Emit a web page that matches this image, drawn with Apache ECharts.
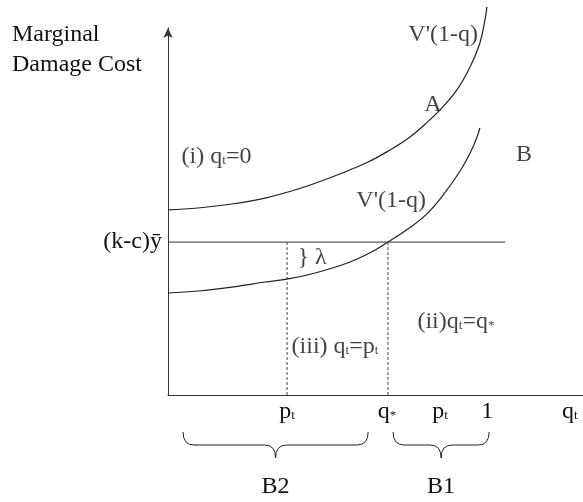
<!DOCTYPE html>
<html>
<head>
<meta charset="utf-8">
<script src="https://cdn.jsdelivr.net/npm/echarts@6/dist/echarts.min.js"></script>
<style>
  html, body { margin: 0; padding: 0; background: #fff; }
  #main { width: 583px; height: 502px; }
</style>
</head>
<body>
<div id="main"></div>
<script>
// upper curve V'(1-q), branch A
var upperQ = [0, 0.094, 0.2, 0.304, 0.407, 0.514, 0.627, 0.695, 0.758, 0.82, 0.852, 0.905, 0.946, 0.977, 0.993, 0.999];
var upperV = [1.21, 1.223, 1.249, 1.288, 1.347, 1.426, 1.524, 1.602, 1.687, 1.799, 1.864, 1.995, 2.145, 2.302, 2.453, 2.538];
// lower curve V'(1-q), branch B
var lowerQ = [0, 0.094, 0.2, 0.304, 0.376, 0.461, 0.564, 0.633, 0.689, 0.758, 0.811, 0.862, 0.915, 0.948, 0.968, 0.977];
var lowerV = [0.667, 0.68, 0.706, 0.739, 0.759, 0.798, 0.865, 0.93, 1.0, 1.095, 1.184, 1.308, 1.465, 1.589, 1.687, 1.746];

var kcLevel = 1;      // (k-c)y level
var levelEnd = 1.056; // where the flat line stops
var ptValue = 0.373;
var qStar = 0.689;

var xTickValues = [0.373, 0.686, 0.852, 1.0, 1.259];
var xTickLabels = ['{m|p}{s|t}', '{m|q}{s|*}', '{m|p}{s|t}', '{m|1}', '{m|q}{s|t}'];

var braceStart = [0.047, 0.705];
var braceEnd = [0.627, 1.006];
var braceLabels = ['B2', 'B1'];

var noteX = [0.862, 0.830, 1.115, 0.152, 0.699, 0.451, 0.523, 0.902];
var noteY = [2.354, 1.897, 1.570, 1.557, 1.269, 0.896, 0.314, 0.477];
var noteText = [
  "V'(1-q)",
  'A',
  'B',
  '{m|(i) q}{s|t}{m|=0}',
  "V'(1-q)",
  '} λ',
  '{m|(iii) q}{s|t}{m|=p}{s|t}',
  '{m|(ii)q}{s|t}{m|=q}{s|*}'
];

var serif = '"Liberation Serif", "DejaVu Serif", serif';
var ink = '#111';
var richText = {
  m: { fontFamily: serif, fontSize: 24, color: ink },
  s: { fontFamily: serif, fontSize: 13, color: ink, verticalAlign: 'bottom', padding: [0, 0, 2, 0] }
};

function zip(a, b) {
  return a.map(function (v, i) { return [v, b[i]]; });
}

var myChart = echarts.init(document.getElementById('main'));

var option = {
  animation: false,
  title: {
    text: 'Marginal\nDamage Cost',
    left: 12,
    top: 20,
    padding: 0,
    textStyle: { fontFamily: serif, fontSize: 24, fontWeight: 'normal', lineHeight: 30, color: ink }
  },
  grid: { left: 168, right: 0, top: 28, bottom: 107 },
  xAxis: {
    type: 'value',
    min: 0,
    max: 1.3,
    axisLine: { show: true, lineStyle: { color: '#333', width: 1 } },
    axisTick: { show: false },
    splitLine: { show: false },
    axisLabel: {
      customValues: xTickValues,
      margin: 5,
      rich: richText,
      formatter: function (value) {
        for (var i = 0; i < xTickValues.length; i++) {
          if (Math.abs(xTickValues[i] - value) < 1e-6) return xTickLabels[i];
        }
        return '';
      }
    }
  },
  yAxis: {
    type: 'value',
    min: 0,
    max: 2.4,
    axisLine: {
      show: true,
      symbol: ['none', 'arrow'],
      symbolSize: [7, 10],
      lineStyle: { color: '#333', width: 1 }
    },
    axisTick: { show: false },
    splitLine: { show: false },
    axisLabel: {
      customValues: [kcLevel],
      margin: 6,
      fontFamily: serif,
      fontSize: 24,
      color: ink,
      formatter: function () { return '(k-c)ȳ'; }
    }
  },
  series: [
    {
      name: 'upper',
      type: 'line',
      data: zip(upperQ, upperV),
      smooth: 0.4,
      symbol: 'none',
      clip: false,
      lineStyle: { color: '#222', width: 1.2 }
    },
    {
      name: 'lower',
      type: 'line',
      data: zip(lowerQ, lowerV),
      smooth: 0.4,
      symbol: 'none',
      clip: false,
      lineStyle: { color: '#222', width: 1.2 }
    },
    {
      name: 'level',
      type: 'line',
      data: [[0, kcLevel], [levelEnd, kcLevel]],
      symbol: 'none',
      lineStyle: { color: '#333', width: 1 }
    },
    {
      name: 'ptDash',
      type: 'line',
      data: [[ptValue, 0], [ptValue, kcLevel]],
      symbol: 'none',
      lineStyle: { color: '#444', width: 1, type: [3, 2] }
    },
    {
      name: 'qDash',
      type: 'line',
      data: [[qStar, 0], [qStar, kcLevel]],
      symbol: 'none',
      lineStyle: { color: '#444', width: 1, type: [3, 2] }
    },
    {
      name: 'notes',
      type: 'scatter',
      symbolSize: 0,
      clip: false,
      data: noteX.map(function (x, i) {
        return { value: [x, noteY[i]], name: noteText[i] };
      }),
      label: {
        show: true,
        position: 'inside',
        fontFamily: serif,
        fontSize: 24,
        color: ink,
        rich: richText,
        formatter: function (p) { return p.name; }
      }
    },
    {
      name: 'braces',
      type: 'custom',
      data: zip(braceStart, braceEnd),
      encode: { x: [0, 1] },
      renderItem: function (params, api) {
        var a = api.coord([api.value(0), 0]);
        var b = api.coord([api.value(1), 0]);
        var x0 = a[0], x1 = b[0], xc = (x0 + x1) / 2;
        var yTop = a[1] + 37, yMid = a[1] + 50, yTip = a[1] + 63;
        var r = 11;
        var st = { stroke: '#222', lineWidth: 1, fill: null };
        return {
          type: 'group',
          children: [
            { type: 'bezierCurve', shape: { x1: x0, y1: yTop, cpx1: x0, cpy1: yMid, x2: x0 + r, y2: yMid }, style: st },
            { type: 'line', shape: { x1: x0 + r, y1: yMid, x2: xc - r, y2: yMid }, style: st },
            { type: 'bezierCurve', shape: { x1: xc - r, y1: yMid, cpx1: xc, cpy1: yMid, x2: xc, y2: yTip }, style: st },
            { type: 'bezierCurve', shape: { x1: xc, y1: yTip, cpx1: xc, cpy1: yMid, x2: xc + r, y2: yMid }, style: st },
            { type: 'line', shape: { x1: xc + r, y1: yMid, x2: x1 - r, y2: yMid }, style: st },
            { type: 'bezierCurve', shape: { x1: x1 - r, y1: yMid, cpx1: x1, cpy1: yMid, x2: x1, y2: yTop }, style: st },
            {
              type: 'text',
              style: {
                text: braceLabels[params.dataIndex],
                x: xc,
                y: yTip + 29,
                align: 'center',
                verticalAlign: 'middle',
                fontFamily: serif,
                fontSize: 24,
                fill: ink
              }
            }
          ]
        };
      }
    }
  ]
};

myChart.setOption(option);
</script>
</body>
</html>
